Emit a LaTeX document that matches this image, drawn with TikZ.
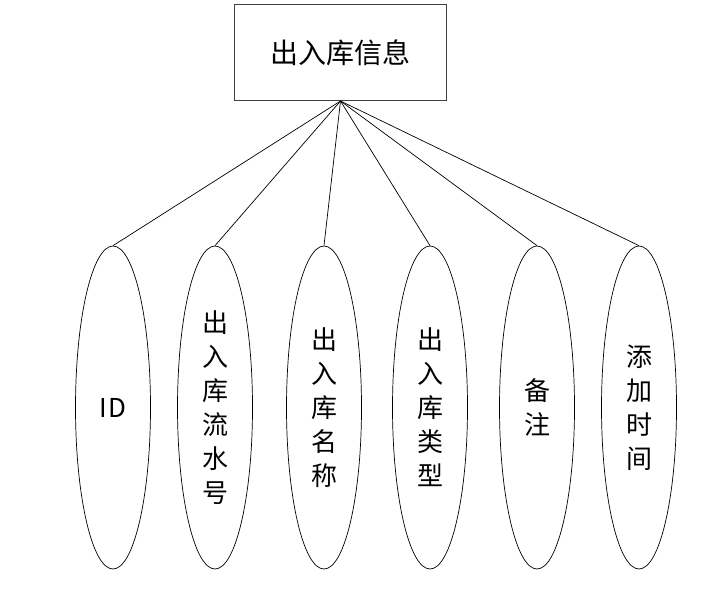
\documentclass[tikz,border=0pt]{standalone}
\usepackage{fontspec}
\newfontfamily\cjk{Noto Sans CJK SC}
\usetikzlibrary{shapes.geometric}

\begin{document}
\begin{tikzpicture}[x=1pt,y=-1pt,
  entity/.style={draw=black!75,line width=1pt,minimum width=212pt,minimum height=96pt,inner sep=0pt,font=\cjk\fontsize{28}{34}\selectfont},
  attr/.style={draw,ellipse,line width=0.7pt,minimum width=75pt,minimum height=323pt,inner sep=0pt,align=center,font=\cjk\fontsize{26}{34}\selectfont},
  link/.style={line width=0.7pt}
]
\useasboundingbox (0,0) rectangle (719,590);

\node[entity] (info) at (340.5,52.5) {出入库信息};

\node[attr] (id) at (113,407.5) {I\kern2pt D};
\node[attr] (serial) at (215,407.5) {出\\入\\库\\流\\水\\号};
\node[attr] (name) at (324,407.5) {出\\入\\库\\名\\称};
\node[attr] (kind) at (430,407.5) {出\\入\\库\\类\\型};
\node[attr] (remark) at (537,407.5) {备\\注};
\node[attr] (added) at (639,407.5) {添\\加\\时\\间};

\draw[link] (info.south) -- (id.north);
\draw[link] (info.south) -- (serial.north);
\draw[link] (info.south) -- (name.north);
\draw[link] (info.south) -- (kind.north);
\draw[link] (info.south) -- (remark.north);
\draw[link] (info.south) -- (added.north);
\end{tikzpicture}
\end{document}
